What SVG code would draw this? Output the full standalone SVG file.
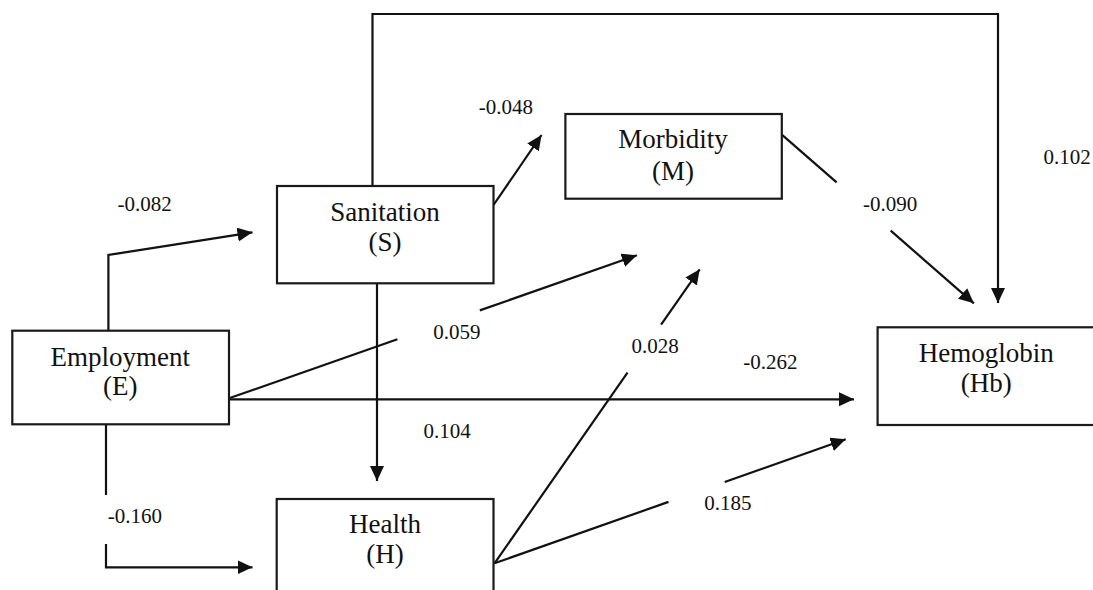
<svg xmlns="http://www.w3.org/2000/svg" width="1093" height="590" viewBox="0 0 1093 590">
<style>
.box{fill:#fff;stroke:#1a1a1a;stroke-width:2.2}
.node{font-size:27px;fill:#111;text-anchor:middle}
.lbl{font-size:21px;fill:#111}
.ln{fill:none;stroke:#111;stroke-width:2.2}
.arr{marker-end:url(#ah)}
</style>
<defs>
<marker id="ah" markerUnits="userSpaceOnUse" markerWidth="16" markerHeight="15" refX="15" refY="7" orient="auto">
<path d="M0,0 L15,7 L0,14 z" fill="#111"/>
</marker>
</defs>
<rect width="1093" height="590" fill="#fff"/>
<g id="connectors">
<path class="ln arr" d="M372.5,186 V14 H998 V303"/>
<path class="ln arr" d="M108.4,331 V255 L252.5,232.3"/>
<path class="ln" d="M106,424 V495"/>
<path class="ln arr" d="M106,544 V567.3 H252.5"/>
<path class="ln arr" d="M493.5,205 L541.5,135"/>
<path class="ln arr" d="M377,283 V481"/>
<path class="ln arr" d="M229,399.3 H854"/>
<path class="ln" d="M229,398.3 L397.4,339.3"/>
<path class="ln arr" d="M479.8,310.4 L636.9,255.3"/>
<path class="ln" d="M781.8,134.7 L836.6,182.3"/>
<path class="ln arr" d="M890.7,230.7 L973.9,303.3"/>
<path class="ln" d="M494.5,563.3 L627.5,372.7"/>
<path class="ln arr" d="M661.1,324.6 L699.7,269.3"/>
<path class="ln" d="M494.5,563.3 L668.5,501.9"/>
<path class="ln arr" d="M724.7,482 L845.7,439.3"/>
</g>
<g font-family="'Liberation Serif', 'Times New Roman', Times, serif">
<g id="node-sanitation">
<rect class="box" x="277" y="186" width="216.5" height="97.3"/>
<text class="node" x="385" y="221">Sanitation</text>
<text class="node" x="385" y="251">(S)</text>
</g>
<g id="node-morbidity">
<rect class="box" x="565.4" y="114" width="216.4" height="84.7"/>
<text class="node" x="673" y="148">Morbidity</text>
<text class="node" x="673" y="180">(M)</text>
</g>
<g id="node-employment">
<rect class="box" x="12.3" y="330.7" width="216.7" height="93.6"/>
<text class="node" x="120.3" y="366">Employment</text>
<text class="node" x="120.3" y="395">(E)</text>
</g>
<g id="node-health">
<rect class="box" x="276.7" y="499" width="216.8" height="110"/>
<text class="node" x="385" y="533">Health</text>
<text class="node" x="385" y="563">(H)</text>
</g>
<g id="node-hemoglobin">
<rect class="box" x="877.6" y="327.3" width="230" height="97.7"/>
<text class="node" x="986.3" y="362">Hemoglobin</text>
<text class="node" x="986.3" y="392">(Hb)</text>
</g>
<g id="labels">
<text class="lbl" x="117.5" y="211">-0.082</text>
<text class="lbl" x="478.8" y="114">-0.048</text>
<text class="lbl" x="1043.5" y="164">0.102</text>
<text class="lbl" x="863" y="211">-0.090</text>
<text class="lbl" x="433.2" y="339">0.059</text>
<text class="lbl" x="631.6" y="353">0.028</text>
<text class="lbl" x="743.2" y="369">-0.262</text>
<text class="lbl" x="423.4" y="438">0.104</text>
<text class="lbl" x="107.7" y="523">-0.160</text>
<text class="lbl" x="704.2" y="510">0.185</text>
</g>
</g>
</svg>
